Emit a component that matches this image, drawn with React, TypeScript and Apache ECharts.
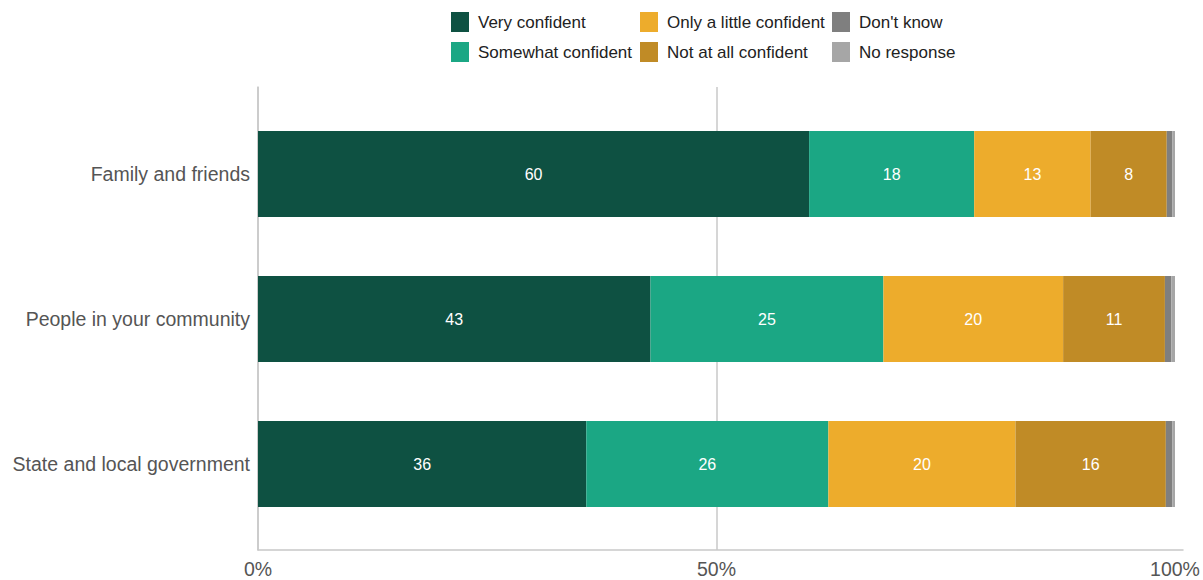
import React, { useEffect, useRef } from "react";
import * as echarts from "echarts";

const categories = ["Family and friends", "People in your community", "State and local government"];
const seriesNames = ["Very confident", "Somewhat confident", "Only a little confident", "Not at all confident", "Don't know", "No response"];
const veryConfident = [60.1, 42.8, 35.8];
const somewhatConfident = [18.0, 25.4, 26.4];
const littleConfident = [12.7, 19.6, 20.4];
const notAtAllConfident = [8.3, 11.1, 16.4];
const dontKnow = [0.6, 0.7, 0.7];
const noResponse = [0.3, 0.4, 0.3];
const tickValues = [0, 50, 100];

const colors = ["#0e5142", "#1ba784", "#edac2c", "#c08b26", "#7f7f7f", "#a6a6a6"];
const FONT = "'Liberation Sans', Arial, sans-serif";

export default function App() {
  const ref = useRef<HTMLDivElement>(null);
  useEffect(() => {
    if (!ref.current) return;
    const chart = echarts.init(ref.current, undefined, { renderer: "svg" });
    const values = [veryConfident, somewhatConfident, littleConfident, notAtAllConfident, dontKnow, noResponse];
    const series = seriesNames.map((name, i) => ({
      name,
      type: "bar",
      stack: "total",
      xAxisIndex: 1,
      yAxisIndex: 1,
      barWidth: 86,
      itemStyle: { color: colors[i] },
      label: {
        show: i < 4,
        position: "inside",
        color: "#ffffff",
        fontSize: 16,
        fontFamily: FONT,
        formatter: (p: any) => String(Math.round(p.value)),
      },
      emphasis: { disabled: true },
      data: values[i],
    }));
    const legendCol = (names: string[], left: number) => ({
      orient: "vertical",
      left,
      top: 12,
      padding: 0,
      itemWidth: 18,
      itemHeight: 20,
      itemGap: 10,
      icon: "rect",
      selectedMode: false,
      textStyle: { fontSize: 17, color: "#222", fontFamily: FONT, padding: [0, 0, 0, 4] },
      data: names,
    });
    chart.setOption({
      animation: false,
      textStyle: { fontFamily: FONT },
      legend: [
        legendCol([seriesNames[0], seriesNames[1]], 451),
        legendCol([seriesNames[2], seriesNames[3]], 640),
        legendCol([seriesNames[4], seriesNames[5]], 832),
      ],
      grid: [
        { left: 258, right: 20, top: 87, bottom: 30 },
        { left: 258, right: 28, top: 101.5, bottom: 43.5 },
      ],
      xAxis: [
        {
          type: "value",
          gridIndex: 0,
          min: 0,
          max: 100.87,
          interval: 50,
          axisLine: { show: true, onZero: false, lineStyle: { color: "#c8c8c8", width: 1.5 } },
          axisTick: { show: false },
          splitLine: {
            show: true,
            lineStyle: { color: ["#c8c8c8", "#c8c8c8", "rgba(0,0,0,0)", "rgba(0,0,0,0)"], width: 1.5 },
          },
          axisLabel: {
            margin: 9,
            fontSize: 19.5,
            color: "#555",
            fontFamily: FONT,
            showMaxLabel: true,
            formatter: (v: number) => (tickValues.includes(v) ? v + "%" : ""),
          },
        },
        { type: "value", gridIndex: 1, min: 0, max: 100, show: false },
      ],
      yAxis: [
        {
          type: "value",
          gridIndex: 0,
          min: 0,
          max: 1,
          axisLine: { show: true, lineStyle: { color: "#c8c8c8", width: 1.5 } },
          axisTick: { show: false },
          axisLabel: { show: false },
          splitLine: { show: false },
        },
        {
          type: "category",
          gridIndex: 1,
          inverse: true,
          data: categories,
          axisLine: { show: false },
          axisTick: { show: false },
          axisLabel: { margin: 8, fontSize: 19.5, color: "#555", fontFamily: FONT },
        },
      ],
      series,
    });
    return () => chart.dispose();
  }, []);
  return <div ref={ref} style={{ position: "absolute", left: 0, top: 0, width: 1203, height: 580 }} />;
}
